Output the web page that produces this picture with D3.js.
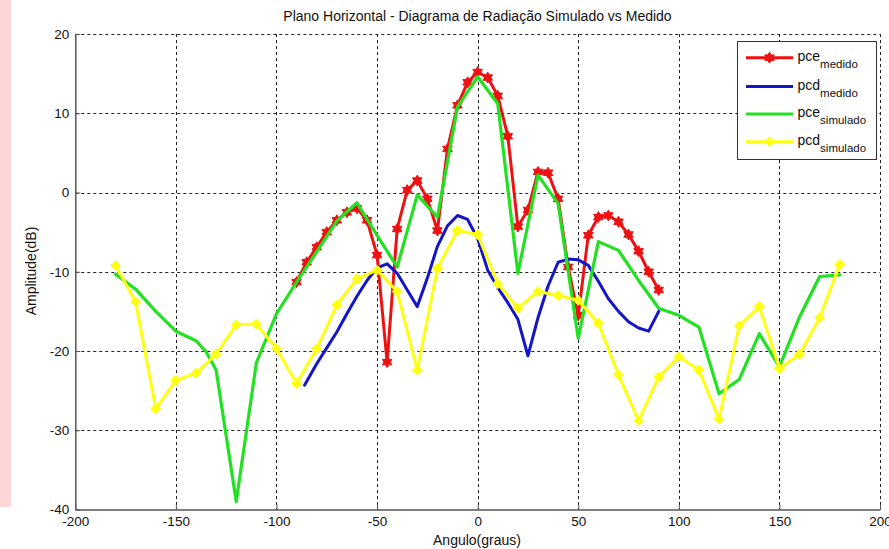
<!DOCTYPE html>
<html>
<head>
<meta charset="utf-8">
<script src="https://cdn.jsdelivr.net/npm/d3@7"></script>
<style>
  html, body { margin: 0; padding: 0; background: #fff; }
  svg { display: block; font-family: "Liberation Sans", Arial, Helvetica, sans-serif; }
</style>
</head>
<body>
<svg id="chart" width="889" height="549"></svg>
<script>
// ---------- data ----------
const pceMedidoX = [-90,-85,-80,-75,-70,-65,-60,-55,-50,-45,-40,-35,-30,-25,-20,-15,-10,-5,0,5,10,15,20,25,30,35,40,45,50,55,60,65,70,75,80,85,90];
const pceMedidoY = [-11.3,-8.8,-6.9,-5.0,-3.5,-2.5,-2.0,-3.5,-7.9,-21.4,-4.6,0.3,1.5,-0.8,-4.8,5.5,11.0,13.9,15.2,14.5,12.2,7.1,-4.3,-2.2,2.6,2.5,-0.8,-9.4,-15.5,-5.4,-3.1,-2.9,-3.7,-5.3,-7.4,-10.0,-12.3];

const pcdMedidoX = [-86,-80,-75,-70,-65,-60,-55,-50,-45,-40,-35,-30,-25,-20,-15,-10,-5,0,5,10,15,20,25,30,35,40,45,50,55,60,65,70,75,80,85,90];
const pcdMedidoY = [-24.3,-21.6,-19.6,-17.6,-15.3,-13.1,-11.1,-9.5,-9.0,-10.2,-12.3,-14.4,-10.8,-6.8,-4.2,-2.9,-3.4,-5.8,-9.8,-12.0,-13.9,-16.0,-20.6,-15.8,-11.8,-8.8,-8.4,-8.5,-9.2,-11.2,-13.4,-15.0,-16.3,-17.1,-17.5,-15.0];

const pceSimuladoX = [-180,-170,-160,-150,-140,-135,-130,-120,-110,-100,-90,-80,-70,-60,-50,-40,-30,-20,-10,0,10,20,30,40,50,60,70,80,90,100,110,120,130,140,150,160,170,180];
const pceSimuladoY = [-10.3,-12.2,-15.0,-17.5,-18.7,-20.1,-22.4,-39.0,-21.5,-15.3,-11.3,-7.5,-3.6,-1.3,-5.4,-9.4,-0.3,-3.1,10.8,14.6,11.2,-10.2,2.2,-1.4,-18.4,-6.2,-7.3,-11.1,-14.6,-15.5,-17.0,-25.4,-23.6,-17.8,-22.0,-15.7,-10.6,-10.4];

const pcdSimuladoX = [-180,-170,-160,-150,-140,-130,-120,-110,-100,-90,-80,-70,-60,-50,-40,-30,-20,-10,0,10,20,30,40,50,60,70,80,90,100,110,120,130,140,150,160,170,180];
const pcdSimuladoY = [-9.2,-13.8,-27.3,-23.7,-22.8,-20.4,-16.7,-16.6,-19.7,-24.1,-19.7,-14.2,-10.9,-9.8,-12.5,-22.4,-9.6,-4.8,-5.3,-11.5,-14.6,-12.5,-13.0,-13.6,-16.5,-23.0,-28.8,-23.3,-20.7,-22.4,-28.6,-16.8,-14.4,-22.2,-20.4,-15.8,-9.1];

const xTicks = [-200,-150,-100,-50,0,50,100,150,200];
const yTicks = [-40,-30,-20,-10,0,10,20];

const titleText = "Plano Horizontal - Diagrama de Radiação Simulado vs Medido";
const xLabel = "Angulo(graus)";
const yLabel = "Amplitude(dB)";

const legendMain = ["pce","pcd","pce","pcd"];
const legendSub = ["medido","medido","simulado","simulado"];

// ---------- layout ----------
const svg = d3.select("#chart");
const x = d3.scaleLinear().domain([-200, 200]).range([75.3, 880]);
const y = d3.scaleLinear().domain([-40, 20]).range([509.5, 34]);

const colors = { red: "#ee1111", blue: "#1414c8", green: "#22e022", yellow: "#ffff14" };

// pink strip on the left
svg.append("rect").attr("x", 0).attr("y", 0).attr("width", 11).attr("height", 507).attr("fill", "#ffd6d6");

// grid
const grid = svg.append("g").attr("stroke", "#222").attr("stroke-width", 1).attr("stroke-dasharray", "3,3").attr("fill", "none");
xTicks.filter(v => v !== -200).forEach(v => {
  grid.append("line").attr("x1", Math.round(x(v)) + 0.5).attr("x2", Math.round(x(v)) + 0.5)
    .attr("y1", y(20)).attr("y2", y(-40));
});
yTicks.filter(v => v !== -40).forEach(v => {
  grid.append("line").attr("y1", Math.round(y(v)) + 0.5).attr("y2", Math.round(y(v)) + 0.5)
    .attr("x1", x(-200)).attr("x2", x(200));
});

// axes
const xAxis = svg.append("g").attr("transform", `translate(0,${y(-40)})`)
  .call(d3.axisBottom(x).tickValues(xTicks).tickSizeInner(-5).tickSizeOuter(0).tickPadding(7).tickFormat(d3.format("d")));
const yAxis = svg.append("g").attr("transform", `translate(${x(-200)},0)`)
  .call(d3.axisLeft(y).tickValues(yTicks).tickSizeInner(-5).tickSizeOuter(0).tickPadding(6).tickFormat(d3.format("d")));
[xAxis, yAxis].forEach(g => {
  g.select(".domain").attr("stroke", "#555").attr("stroke-width", 1.5);
  g.selectAll(".tick line").attr("stroke", "#555");
  g.selectAll("text").attr("font-size", 13.5).attr("fill", "#111").attr("font-family", "Liberation Sans, Arial, sans-serif");
});
svg.selectAll(".tick text").text(function(d){ return String(d); });

// markers
function hexagram(r) {
  const pts = [];
  for (let i = 0; i < 12; i++) {
    const a = Math.PI / 2 + i * Math.PI / 6;
    const rr = i % 2 === 0 ? r : r / Math.sqrt(3);
    pts.push([rr * Math.cos(a), -rr * Math.sin(a)]);
  }
  return "M" + pts.map(p => p.join(",")).join("L") + "Z";
}
function diamond(r) {
  return `M0,${-r}L${r},0L0,${r}L${-r},0Z`;
}

function series(xs, ys, color, width, marker) {
  const pts = xs.map((v, i) => [v, ys[i]]);
  const line = d3.line().x(d => x(d[0])).y(d => y(d[1]));
  const g = svg.append("g");
  g.append("path").datum(pts).attr("d", line).attr("fill", "none")
    .attr("stroke", color).attr("stroke-width", width).attr("stroke-linejoin", "round").attr("stroke-linecap", "round");
  if (marker) {
    g.selectAll("path.mk").data(pts).enter().append("path").attr("class", "mk")
      .attr("d", marker).attr("transform", d => `translate(${x(d[0])},${y(d[1])})`)
      .attr("fill", color).attr("stroke", color).attr("stroke-width", 1);
  }
}

series(pceMedidoX, pceMedidoY, colors.red, 3, hexagram(5.5));
series(pcdMedidoX, pcdMedidoY, colors.blue, 3, null);
series(pceSimuladoX, pceSimuladoY, colors.green, 3.2, null);
series(pcdSimuladoX, pcdSimuladoY, colors.yellow, 3, diamond(5));

// title & labels
svg.append("text").attr("x", 477.5).attr("y", 21).attr("text-anchor", "middle")
  .attr("font-size", 14).attr("fill", "#111").text(titleText);
svg.append("text").attr("x", 477).attr("y", 545).attr("text-anchor", "middle")
  .attr("font-size", 14).attr("fill", "#111").text(xLabel);
svg.append("text").attr("transform", "translate(36,271) rotate(-90)").attr("text-anchor", "middle")
  .attr("font-size", 14).attr("fill", "#111").text(yLabel);

// legend
const lg = svg.append("g");
lg.append("rect").attr("x", 737.5).attr("y", 41.5).attr("width", 139).attr("height", 118)
  .attr("fill", "#fff").attr("stroke", "#333").attr("stroke-width", 1);
const rowsY = [57.7, 86.5, 114, 141.7];
const legColors = [colors.red, colors.blue, colors.green, colors.yellow];
const legMarkers = [hexagram(5.5), null, null, diamond(5)];
rowsY.forEach((ry, i) => {
  lg.append("line").attr("x1", 746).attr("x2", 793).attr("y1", ry).attr("y2", ry)
    .attr("stroke", legColors[i]).attr("stroke-width", 3);
  if (legMarkers[i]) {
    lg.append("path").attr("d", legMarkers[i]).attr("transform", `translate(769.5,${ry})`)
      .attr("fill", legColors[i]).attr("stroke", legColors[i]);
  }
  const t = lg.append("text").attr("x", 797.5).attr("y", ry + 3).attr("font-size", 14).attr("fill", "#111");
  t.append("tspan").text(legendMain[i]);
  t.append("tspan").attr("dy", 7).attr("font-size", 11.5).text(legendSub[i]);
});
</script>
</body>
</html>
